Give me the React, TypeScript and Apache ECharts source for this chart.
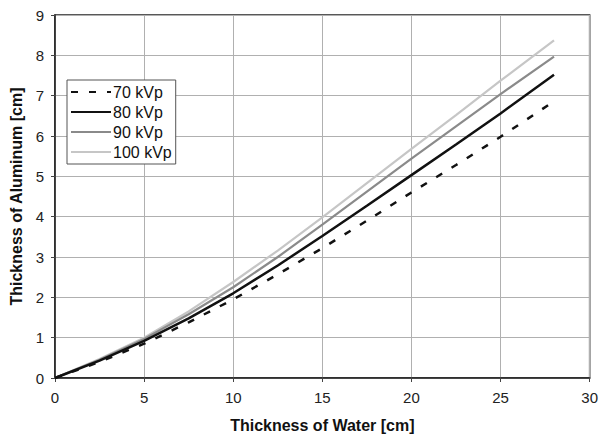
import React, { useEffect, useRef } from "react";
import * as echarts from "echarts";

const water = [0, 2.5, 5, 7.5, 10, 12.5, 15, 17.5, 20, 22.5, 25, 28];
const kvp70 = [0, 0.4, 0.85, 1.38, 1.95, 2.57, 3.22, 3.9, 4.6, 5.28, 5.98, 6.86];
const kvp80 = [0, 0.43, 0.92, 1.48, 2.1, 2.79, 3.52, 4.27, 5.03, 5.79, 6.56, 7.52];
const kvp90 = [0, 0.45, 0.97, 1.58, 2.25, 3.0, 3.8, 4.62, 5.44, 6.24, 7.04, 7.97];
const kvp100 = [0, 0.47, 1.0, 1.65, 2.38, 3.16, 3.98, 4.83, 5.68, 6.52, 7.37, 8.37];
const seriesNames = ["70 kVp", "80 kVp", "90 kVp", "100 kVp"];

const pairs = (ys: number[]) => water.map((x, i) => [x, ys[i]]);

export default function App() {
  const ref = useRef<HTMLDivElement>(null);
  useEffect(() => {
    const chart = echarts.init(ref.current!, null, { renderer: "svg" });
    const font = "'Liberation Sans', Arial, sans-serif";
    chart.setOption({
      animation: false,
      textStyle: { fontFamily: font },
      grid: { left: 54, right: 9, top: 15, bottom: 63, show: true, borderColor: "#222", borderWidth: 1.5 },
      legend: {
        orient: "vertical",
        left: 67,
        top: 80,
        data: seriesNames,
        itemWidth: 40,
        itemHeight: 14,
        itemGap: 4,
        backgroundColor: "#fff",
        borderColor: "#555",
        borderWidth: 1,
        padding: [4, 4, 4, 3],
        itemStyle: { opacity: 0 },
        textStyle: { fontFamily: font, fontSize: 16, color: "#111", padding: [0, 0, 0, -3] },
      },
      xAxis: {
        type: "value",
        min: 0,
        max: 30,
        interval: 5,
        name: "Thickness of Water [cm]",
        nameLocation: "middle",
        nameGap: 39,
        nameTextStyle: { fontFamily: font, fontWeight: "bold", fontSize: 16, color: "#111" },
        axisLine: { lineStyle: { color: "#222", width: 1.5 } },
        axisTick: { show: true, length: 4, lineStyle: { color: "#444" } },
        axisLabel: { fontFamily: font, fontSize: 15, color: "#222", margin: 12 },
        splitLine: { lineStyle: { color: "#b0b0b0", width: 1 } },
      },
      yAxis: {
        type: "value",
        min: 0,
        max: 9,
        interval: 1,
        name: "Thickness of Aluminum [cm]",
        nameLocation: "middle",
        nameGap: 31,
        nameTextStyle: { fontFamily: font, fontWeight: "bold", fontSize: 16, color: "#111" },
        axisLine: { lineStyle: { color: "#222", width: 1.5 } },
        axisTick: { show: true, length: 4, lineStyle: { color: "#444" } },
        axisLabel: { fontFamily: font, fontSize: 15, color: "#222", margin: 11 },
        splitLine: { lineStyle: { color: "#b0b0b0", width: 1 } },
      },
      series: [
        {
          name: seriesNames[0],
          type: "line",
          data: pairs(kvp70),
          symbol: "none",
          z: 5,
          color: "#111",
          lineStyle: { color: "#111", width: 2.5, type: [7, 11] },
        },
        {
          name: seriesNames[1],
          type: "line",
          data: pairs(kvp80),
          symbol: "none",
          z: 4,
          color: "#111",
          lineStyle: { color: "#111", width: 2.5 },
        },
        {
          name: seriesNames[2],
          type: "line",
          data: pairs(kvp90),
          symbol: "none",
          z: 3,
          color: "#8a8a8a",
          lineStyle: { color: "#8a8a8a", width: 2.2 },
        },
        {
          name: seriesNames[3],
          type: "line",
          data: pairs(kvp100),
          symbol: "none",
          z: 2,
          color: "#c6c6c6",
          lineStyle: { color: "#c6c6c6", width: 2.2 },
        },
      ],
    });
    return () => chart.dispose();
  }, []);
  return <div ref={ref} style={{ width: 601, height: 441, position: "absolute", left: 0, top: 0 }} />;
}
